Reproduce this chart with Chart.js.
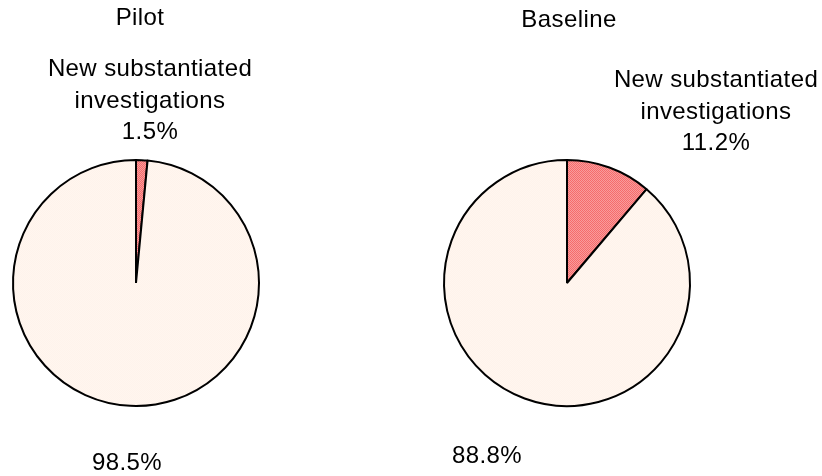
<!DOCTYPE html>
<html>
<head>
<meta charset="utf-8">
<script src="https://cdn.jsdelivr.net/npm/chart.js@4/dist/chart.umd.min.js"></script>
<style>
  html, body { margin: 0; padding: 0; background: #ffffff; }
  #wrap { position: relative; width: 822px; height: 476px; overflow: hidden; }
  canvas { position: absolute; top: 0; }
  #pilot { left: 0; }
  #baseline { left: 411px; }
</style>
</head>
<body>
<div id="wrap">
  <canvas id="pilot" width="411" height="476"></canvas>
  <canvas id="baseline" width="411" height="476"></canvas>
</div>
<script>
// Share of investigations, in percent
const categories = ['New substantiated investigations', 'Other investigations'];
const categoryLines = [['New substantiated', 'investigations'], []];
const chartTitles = ['Pilot', 'Baseline'];
const pilotValues = [1.5, 98.5];
const baselineValues = [11.2, 88.8];

// Soft two-colour checker fill, built on the target canvas' own context
function checker(ctx, c1, c2) {
  const t = document.createElement('canvas');
  t.width = 2; t.height = 2;
  const g = t.getContext('2d');
  g.fillStyle = c1; g.fillRect(0, 0, 2, 2);
  g.fillStyle = c2; g.fillRect(0, 0, 1, 1); g.fillRect(1, 1, 1, 1);
  return ctx.createPattern(t, 'repeat');
}

const FONT = '24px "Liberation Sans", Arial, sans-serif';

// Text placement relative to the pie centre
const placements = {
  pilot: {
    title: [4, -258],
    slice0: [14, -207],
    slice1: [-9, 187]
  },
  baseline: {
    title: [2, -256],
    slice0: [149, -196],
    slice1: [-80, 180]
  }
};

const pieText = {
  id: 'pieText',
  afterDraw(chart, args, opts) {
    const ctx = chart.ctx;
    const arc = chart.getDatasetMeta(0).data[0];
    const cx = arc.x, cy = arc.y;
    const p = placements[opts.key];
    const values = chart.data.datasets[0].data;
    ctx.save();
    ctx.font = FONT;
    ctx.fillStyle = '#000000';
    ctx.textAlign = 'center';
    ctx.textBaseline = 'alphabetic';
    if ('letterSpacing' in ctx) ctx.letterSpacing = '0.4px';
    ctx.fillText(opts.title, cx + p.title[0], cy + p.title[1]);
    values.forEach((v, i) => {
      const lines = categoryLines[i].concat([v.toFixed(1) + '%']);
      const pos = p['slice' + i];
      lines.forEach((ln, k) => {
        ctx.fillText(ln, cx + pos[0], cy + pos[1] + k * 31.5);
      });
    });
    ctx.restore();
  }
};

function makePie(id, key, title, values, pad) {
  const canvas = document.getElementById(id);
  const ctx = canvas.getContext('2d');
  const redFill = checker(ctx, '#f56c6c', '#f99c9c');
  const creamFill = checker(ctx, '#fff6ef', '#fff3eb');
  return new Chart(ctx, {
    type: 'pie',
    data: {
      labels: categories,
      datasets: [{
        data: values,
        backgroundColor: [redFill, creamFill],
        borderColor: '#000000',
        borderWidth: 2,
        hoverOffset: 0
      }]
    },
    options: {
      responsive: false,
      animation: false,
      layout: { padding: pad },
      plugins: {
        legend: { display: false },
        tooltip: { enabled: false },
        title: { display: false },
        pieText: { key: key, title: title }
      }
    },
    plugins: [pieText]
  });
}

makePie('pilot', 'pilot', chartTitles[0], pilotValues,
  { left: 12, right: 151, top: 159, bottom: 69 });
makePie('baseline', 'baseline', chartTitles[1], baselineValues,
  { left: 32, right: 131, top: 159, bottom: 69 });
</script>
</body>
</html>
